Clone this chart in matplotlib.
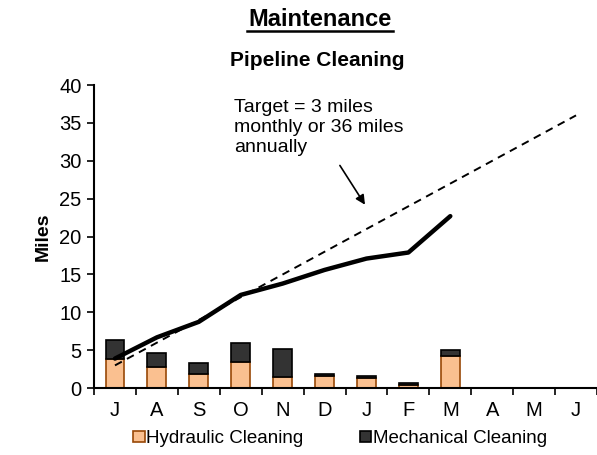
"""
pipeline cleaning maintenance chart
"""
import matplotlib.pyplot as plt
import numpy as np
from matplotlib.patches import Patch

plt.rcParams["font.family"] = ["Liberation Sans", "DejaVu Sans"]

months = ["J", "A", "S", "O", "N", "D", "J", "F", "M", "A", "M", "J"]
hydraulic = [3.8, 2.8, 1.9, 3.5, 1.5, 1.6, 1.4, 0.4, 4.2]
mechanical = [2.6, 1.9, 1.4, 2.4, 3.6, 0.3, 0.2, 0.3, 0.8]
cumulative = [3.9, 6.7, 8.75, 12.3, 13.8, 15.6, 17.1, 17.9, 22.7]
target = [3, 36]

fig = plt.figure(figsize=(5.97, 4.55), dpi=100)
ax = fig.add_axes([0.1575, 0.147, 0.8425, 0.666])

x = np.arange(len(months))
xb = x[: len(hydraulic)]
ax.bar(xb, hydraulic, width=0.45, color="#FAC090", edgecolor="#984807", linewidth=1.2)
ax.bar(xb, mechanical, width=0.45, bottom=hydraulic, color="#333333",
       edgecolor="black", linewidth=1.2)

ax.plot([x[0], x[-1]], target, color="black", linestyle=(0, (4, 3)), linewidth=1.4)
ax.plot(xb, cumulative, color="black", linewidth=3.2, solid_capstyle="round",
        solid_joinstyle="round")

ax.set_xlim(-0.5, 11.5)
ax.set_ylim(0, 40)
ax.set_yticks(np.arange(0, 41, 5))
ax.set_xticks(x)
ax.set_xticklabels(months)
ax.set_xticks(np.arange(-0.5, 12, 1), minor=True)
ax.tick_params(axis="x", which="major", length=0, labelsize=14.5, pad=9)
ax.tick_params(axis="x", which="minor", length=5, width=1.2, direction="out")
ax.tick_params(axis="y", length=5, width=1.2, labelsize=14.5, direction="out", pad=4)
for side in ["top", "right"]:
    ax.spines[side].set_visible(False)
for side in ["left", "bottom"]:
    ax.spines[side].set_linewidth(1.5)

ax.set_ylabel("Miles", fontsize=14, fontweight="bold", labelpad=5)

fig.text(0.536, 0.958, "Maintenance", fontsize=17, fontweight="bold",
         ha="center", va="center")
fig.add_artist(plt.Line2D([0.414, 0.659], [0.932, 0.932], color="black",
                          linewidth=1.8, transform=fig.transFigure))
fig.text(0.532, 0.868, "Pipeline Cleaning", fontsize=15, fontweight="bold",
         ha="center", va="center")

ax.text(0.278, 0.955, "Target = 3 miles\nmonthly or 36 miles\nannually",
        transform=ax.transAxes, fontsize=14, ha="left", va="top", linespacing=1.25)
ax.annotate("", xy=(6.0, 23.9), xytext=(5.33, 29.7),
            arrowprops=dict(arrowstyle="-|>", color="black", lw=1.2,
                            mutation_scale=14))

handles = [
    Patch(facecolor="#FAC090", edgecolor="#984807", linewidth=1.2,
          label="Hydraulic Cleaning"),
    Patch(facecolor="#333333", edgecolor="black", linewidth=1.2,
          label="Mechanical Cleaning"),
]
fig.legend(handles=handles, loc="center", bbox_to_anchor=(0.57, 0.036), ncol=2,
           frameon=False, fontsize=13.5, handlelength=0.6, handleheight=0.6,
           handletextpad=0.1, columnspacing=3.0)

fig.savefig("out.png", dpi=100)
